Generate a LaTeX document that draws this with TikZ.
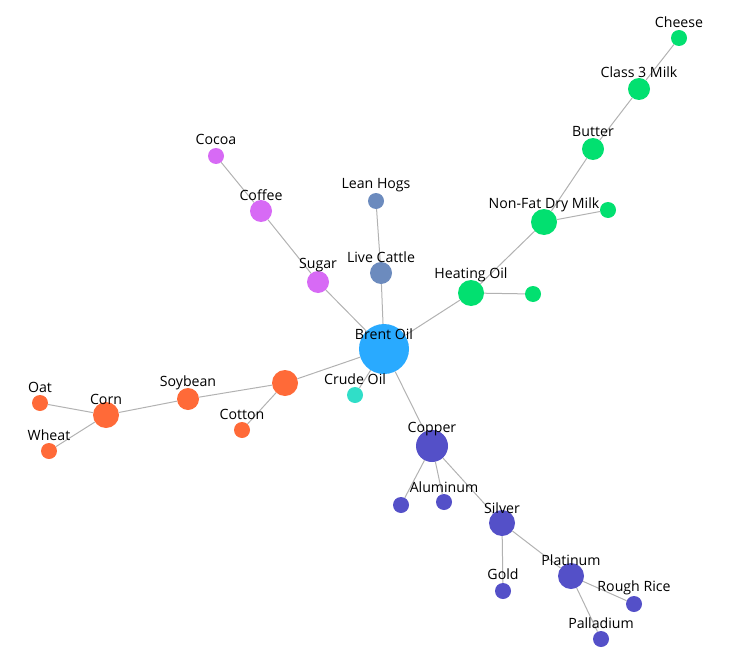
\documentclass[tikz,border=0pt]{standalone}
\usepackage{fontspec}
\setmainfont{Open Sans}
\usetikzlibrary{positioning}

\definecolor{oilblue}{RGB}{41,170,255}
\definecolor{crudeteal}{RGB}{48,222,200}
\definecolor{softpink}{RGB}{215,106,245}
\definecolor{meatslate}{RGB}{108,139,190}
\definecolor{dairygreen}{RGB}{2,224,112}
\definecolor{grainorange}{RGB}{255,106,56}
\definecolor{metalindigo}{RGB}{84,80,200}
\definecolor{linkgray}{RGB}{178,178,178}

\tikzset{
  dot/.style={circle,inner sep=0pt,draw=none},
  s8/.style={dot,minimum size=16bp},
  s11/.style={dot,minimum size=22bp},
  s13/.style={dot,minimum size=26bp},
  s16/.style={dot,minimum size=32bp},
  s25/.style={dot,minimum size=50bp},
  lbl/.style={font=\fontsize{14.2}{16}\selectfont,inner sep=0pt,text=black},
  link/.style={draw=linkgray,line width=1bp}
}

\begin{document}
\begin{tikzpicture}[x=1bp,y=-1bp]
\useasboundingbox (0,0) rectangle (729,670);

% hub
\node[s25,fill=oilblue] (brent) at (384,349) {};
\node[s8,fill=crudeteal] (crude) at (355,395) {};

% softs
\node[s11,fill=softpink] (sugar) at (318,282) {};
\node[s11,fill=softpink] (coffee) at (261,211) {};
\node[s8,fill=softpink] (cocoa) at (216,156) {};

% livestock
\node[s11,fill=meatslate] (cattle) at (381,273) {};
\node[s8,fill=meatslate] (hogs) at (376,201) {};

% energy and dairy
\node[s13,fill=dairygreen] (heating) at (471,293) {};
\node[s8,fill=dairygreen] (heatside) at (533,294) {};
\node[s13,fill=dairygreen] (nfdm) at (544,222) {};
\node[s8,fill=dairygreen] (nfdmside) at (608,210) {};
\node[s11,fill=dairygreen] (butter) at (593,149) {};
\node[s11,fill=dairygreen] (milk) at (639,89) {};
\node[s8,fill=dairygreen] (cheese) at (679,38) {};

% grains
\node[s13,fill=grainorange] (grainhub) at (285,383) {};
\node[s11,fill=grainorange] (soybean) at (188,399) {};
\node[s8,fill=grainorange] (cotton) at (242,430) {};
\node[s13,fill=grainorange] (corn) at (106,415) {};
\node[s8,fill=grainorange] (oat) at (40,403) {};
\node[s8,fill=grainorange] (wheat) at (49,451) {};

% metals
\node[s16,fill=metalindigo] (copper) at (432,446) {};
\node[s8,fill=metalindigo] (copperside) at (401,505) {};
\node[s8,fill=metalindigo] (aluminum) at (444,502) {};
\node[s13,fill=metalindigo] (silver) at (502,523) {};
\node[s8,fill=metalindigo] (gold) at (503,591) {};
\node[s13,fill=metalindigo] (platinum) at (571,576) {};
\node[s8,fill=metalindigo] (rice) at (634,604) {};
\node[s8,fill=metalindigo] (palladium) at (601,639) {};

% links
\draw[link] (brent) -- (crude);
\draw[link] (brent) -- (sugar);
\draw[link] (sugar) -- (coffee);
\draw[link] (coffee) -- (cocoa);
\draw[link] (brent) -- (cattle);
\draw[link] (cattle) -- (hogs);
\draw[link] (brent) -- (heating);
\draw[link] (heating) -- (heatside);
\draw[link] (heating) -- (nfdm);
\draw[link] (nfdm) -- (nfdmside);
\draw[link] (nfdm) -- (butter);
\draw[link] (butter) -- (milk);
\draw[link] (milk) -- (cheese);
\draw[link] (brent) -- (grainhub);
\draw[link] (grainhub) -- (soybean);
\draw[link] (grainhub) -- (cotton);
\draw[link] (soybean) -- (corn);
\draw[link] (corn) -- (oat);
\draw[link] (corn) -- (wheat);
\draw[link] (brent) -- (copper);
\draw[link] (copper) -- (copperside);
\draw[link] (copper) -- (aluminum);
\draw[link] (copper) -- (silver);
\draw[link] (silver) -- (gold);
\draw[link] (silver) -- (platinum);
\draw[link] (platinum) -- (rice);
\draw[link] (platinum) -- (palladium);

% labels
\node[lbl] (brentlbl) at ([yshift=15bp]brent.center) {Brent Oil};
\node[lbl] (crudelbl) at ([yshift=16bp]crude.center) {Crude Oil};
\node[lbl] (sugarlbl) at ([yshift=17bp]sugar.center) {Sugar};
\node[lbl] (coffeelbl) at ([yshift=16bp]coffee.center) {Coffee};
\node[lbl] (cocoalbl) at ([yshift=17bp]cocoa.center) {Cocoa};
\node[lbl] (cattlelbl) at ([yshift=16bp]cattle.center) {Live Cattle};
\node[lbl] (hogslbl) at ([yshift=16bp]hogs.center) {Lean Hogs};
\node[lbl] (heatinglbl) at ([yshift=18bp]heating.center) {Heating Oil};
\node[lbl] (nfdmlbl) at ([yshift=17bp]nfdm.center) {Non-Fat Dry Milk};
\node[lbl] (butterlbl) at ([yshift=17bp]butter.center) {Butter};
\node[lbl] (milklbl) at ([yshift=17bp]milk.center) {Class 3 Milk};
\node[lbl] (cheeselbl) at ([yshift=16bp]cheese.center) {Cheese};
\node[lbl] (soybeanlbl) at ([yshift=16bp]soybean.center) {Soybean};
\node[lbl] (cottonlbl) at ([yshift=16bp]cotton.center) {Cotton};
\node[lbl] (cornlbl) at ([yshift=16bp]corn.center) {Corn};
\node[lbl] (oatlbl) at ([yshift=16bp]oat.center) {Oat};
\node[lbl] (wheatlbl) at ([yshift=16bp]wheat.center) {Wheat};
\node[lbl] (copperlbl) at ([yshift=17bp]copper.center) {Copper};
\node[lbl] (aluminumlbl) at ([yshift=15bp]aluminum.center) {Aluminum};
\node[lbl] (silverlbl) at ([yshift=15bp]silver.center) {Silver};
\node[lbl] (goldlbl) at ([yshift=17bp]gold.center) {Gold};
\node[lbl] (platinumlbl) at ([yshift=16bp]platinum.center) {Platinum};
\node[lbl] (ricelbl) at ([yshift=16bp]rice.center) {Rough Rice};
\node[lbl] (palladiumlbl) at ([yshift=16bp]palladium.center) {Palladium};
\end{tikzpicture}
\end{document}
